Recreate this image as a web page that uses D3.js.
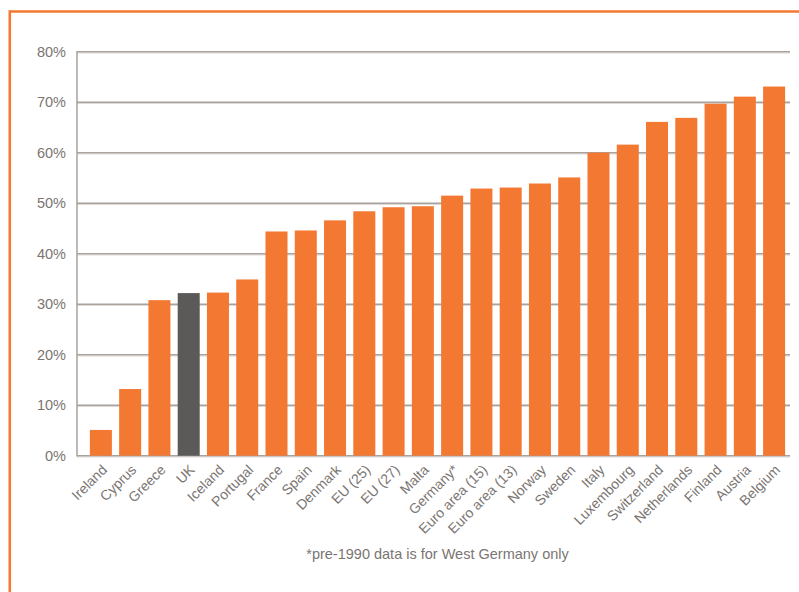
<!DOCTYPE html>
<html>
<head>
<meta charset="utf-8">
<script src="https://cdn.jsdelivr.net/npm/d3@7/dist/d3.min.js"></script>
<style>
  html, body { margin: 0; padding: 0; background: #fff; }
  svg { display: block; font-family: "Liberation Sans", Arial, sans-serif; }
</style>
</head>
<body>
<svg id="chart" width="799" height="592"></svg>
<script>
// Share of each country, ascending
const countries = ["Ireland", "Cyprus", "Greece", "UK", "Iceland", "Portugal", "France", "Spain",
  "Denmark", "EU (25)", "EU (27)", "Malta", "Germany*", "Euro area (15)", "Euro area (13)",
  "Norway", "Sweden", "Italy", "Luxembourg", "Switzerland", "Netherlands", "Finland", "Austria", "Belgium"];
const shares = [5.1, 13.2, 30.8, 32.2, 32.3, 34.9, 44.4, 44.6, 46.6, 48.4, 49.2, 49.4, 51.5, 52.9,
  53.1, 53.9, 55.1, 60.0, 61.6, 66.1, 66.9, 69.7, 71.1, 73.1];
const yTicks = [0, 10, 20, 30, 40, 50, 60, 70, 80];
const highlighted = ["UK"];
const footnote = "*pre-1990 data is for West Germany only";

const svg = d3.select("#chart");
const orange = "#f37831";
const grey = "#5b5a58";
const gridColor = "#a9a29d";
const textColor = "#7a7572";

// frame: orange rule along the top and left
svg.append("line").attr("x1", 9.5).attr("x2", 799).attr("y1", 11.5).attr("y2", 11.5)
  .attr("stroke", orange).attr("stroke-width", 2.6);
svg.append("line").attr("x1", 9.8).attr("x2", 9.8).attr("y1", 10.2).attr("y2", 592)
  .attr("stroke", orange).attr("stroke-width", 2.6);

const plotLeft = 77, plotRight = 790, plotTop = 51.7, plotBottom = 455.7;

const x = d3.scaleBand().domain(countries).range([plotLeft, 798])
  .paddingInner(0.248).paddingOuter(0.44);
const y = d3.scaleLinear().domain([0, 80]).range([plotBottom, plotTop]);

// horizontal gridlines
const grid = svg.append("g");
grid.selectAll("line.shade").data(yTicks).join("line")
  .attr("class", "shade")
  .attr("x1", plotLeft).attr("x2", plotRight)
  .attr("y1", d => y(d) + 1.3).attr("y2", d => y(d) + 1.3)
  .attr("stroke", "#dedad7").attr("stroke-width", 1);
grid.selectAll("line.main").data(yTicks).join("line")
  .attr("class", "main")
  .attr("x1", plotLeft).attr("x2", plotRight)
  .attr("y1", d => y(d)).attr("y2", d => y(d))
  .attr("stroke", gridColor).attr("stroke-width", 1.5);

// left axis line
svg.append("line").attr("x1", plotLeft).attr("x2", plotLeft)
  .attr("y1", plotTop - 0.7).attr("y2", plotBottom + 0.7)
  .attr("stroke", gridColor).attr("stroke-width", 1.5);

// bars
svg.append("g").selectAll("rect").data(countries).join("rect")
  .attr("x", d => x(d))
  .attr("width", x.bandwidth())
  .attr("y", (d, i) => y(shares[i]))
  .attr("height", (d, i) => y(0) - y(shares[i]))
  .attr("fill", d => highlighted.includes(d) ? grey : orange);

// y axis labels
const yAxis = d3.axisLeft(y).tickValues(yTicks).tickFormat(d => d + "%").tickSize(0).tickPadding(11);
const gy = svg.append("g").attr("transform", `translate(${plotLeft},0)`).call(yAxis);
gy.select(".domain").remove();
gy.selectAll("text").attr("fill", textColor).attr("font-size", "14.5px");

// x axis labels, rotated
const xAxis = d3.axisBottom(x).tickSize(0).tickPadding(0);
const gx = svg.append("g").attr("transform", `translate(0,${plotBottom})`).call(xAxis);
gx.select(".domain").remove();
gx.selectAll("text")
  .attr("fill", textColor)
  .attr("font-size", "14px")
  .attr("text-anchor", "end")
  .attr("y", 0).attr("dy", 0)
  .attr("transform", "translate(7,15) rotate(-45)");

// footnote
svg.append("text").attr("x", 437.5).attr("y", 559).attr("text-anchor", "middle")
  .attr("fill", textColor).attr("font-size", "14.5px").text(footnote);
</script>
</body>
</html>
